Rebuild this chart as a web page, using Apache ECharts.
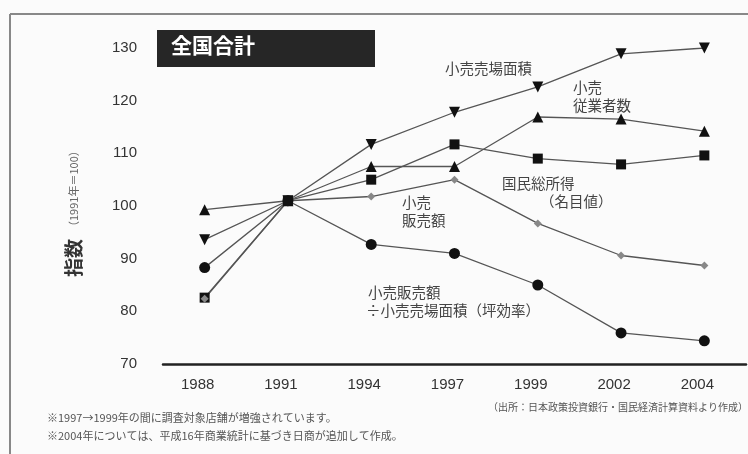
<!DOCTYPE html>
<html><head><meta charset="utf-8">
<script src="https://cdn.jsdelivr.net/npm/echarts@6/dist/echarts.min.js"></script>
<style>html,body{margin:0;padding:0;background:#fbfbfb}#c{width:748px;height:454px}</style>
</head><body><div id="c"></div>
<script>
const years = ['1988','1991','1994','1997','1999','2002','2004'];
const yTicks = [70, 80, 90, 100, 110, 120, 130];
const floorArea = [93.6, 101, 111.7, 117.8, 122.6, 128.9, 130];      // 小売売場面積
const employees = [99.3, 101, 107.5, 107.5, 116.9, 116.5, 114.2];    // 小売従業者数
const gni = [82.6, 101, 105, 111.7, 109, 107.9, 109.6];             // 国民総所得（名目値）
const retailSales = [82.4, 101, 101.8, 105, 96.7, 90.6, 88.7];      // 小売販売額
const efficiency = [88.3, 101, 92.7, 91, 85, 75.9, 74.4];           // 坪効率

const font = "'Noto Sans CJK JP', sans-serif";
const chart = echarts.init(document.getElementById('c'));
const lineStyle = {color: '#555', width: 1.3};
function s(name, data, symbol, size, color, rot) {
  return {name, type: 'line', data, symbol, symbolSize: size, symbolRotate: rot || 0,
    itemStyle: {color: color}, lineStyle, z: 3, animation: false};
}
function txt(x, y, t, size, opts) {
  opts = opts || {};
  return {type: 'text', x, y, rotation: opts.rotation || 0,
    style: {text: t, fontSize: size, fontFamily: font, fontWeight: opts.weight || 'normal', fill: opts.fill || '#444'}};
}
chart.setOption({
  animation: false,
  backgroundColor: '#fbfbfb',
  grid: {left: 163, right: 2, top: 48, bottom: 90},
  xAxis: {type: 'category', data: years, boundaryGap: true,
    axisLine: {lineStyle: {color: '#222', width: 2.5}}, axisTick: {show: false},
    axisLabel: {color: '#333', fontSize: 15, fontFamily: 'Liberation Sans, Arial', margin: 13, padding: [0, 14, 0, 0]}},
  yAxis: {type: 'value', min: 70, max: 130, interval: 10,
    axisLine: {show: false}, axisTick: {show: false}, splitLine: {show: false},
    axisLabel: {color: '#333', fontSize: 15, fontFamily: 'Liberation Sans, Arial', margin: 26,
      formatter: v => yTicks.includes(v) ? String(v) : ''}},
  series: [
    s('小売売場面積', floorArea, 'triangle', 11, '#111', 180),
    s('小売従業者数', employees, 'triangle', 11, '#111'),
    s('国民総所得', gni, 'rect', 10, '#111'),
    s('小売販売額', retailSales, 'diamond', 8, '#888'),
    s('坪効率', efficiency, 'circle', 11, '#111')
  ],
  graphic: [
    {type: 'line', shape: {x1: 10, y1: 14, x2: 748, y2: 14}, style: {stroke: '#888', lineWidth: 2}},
    {type: 'line', shape: {x1: 10, y1: 14, x2: 10, y2: 454}, style: {stroke: '#888', lineWidth: 2}},
    {type: 'rect', shape: {x: 157, y: 30, width: 218, height: 37}, style: {fill: '#262626'}},
    txt(171, 35, '全国合計', 21, {weight: 'bold', fill: '#fff'}),
    txt(445, 61, '小売売場面積', 14.5),
    txt(573, 80, '小売', 14.5),
    txt(573, 98, '従業者数', 14.5),
    txt(502, 176, '国民総所得', 14.5),
    txt(540, 194, '（名目値）', 14.5),
    txt(402, 195, '小売', 14.5),
    txt(402, 213, '販売額', 14.5),
    txt(368, 285, '小売販売額', 14.5),
    txt(366, 303, '÷小売売場面積（坪効率）', 14.5),
    txt(64, 277, '指数', 19, {weight: 'bold', fill: '#333', rotation: Math.PI / 2}),
    txt(68, 232, '（1991年＝100）', 11, {fill: '#666', rotation: Math.PI / 2}),
    txt(488, 402, '（出所：日本政策投資銀行・国民経済計算資料より作成）', 10, {fill: '#555'}),
    txt(47, 412, '※1997→1999年の間に調査対象店舗が増強されています。', 11, {fill: '#555'}),
    txt(47, 430, '※2004年については、平成16年商業統計に基づき日商が追加して作成。', 11, {fill: '#555'})
  ]
});
</script></body></html>
